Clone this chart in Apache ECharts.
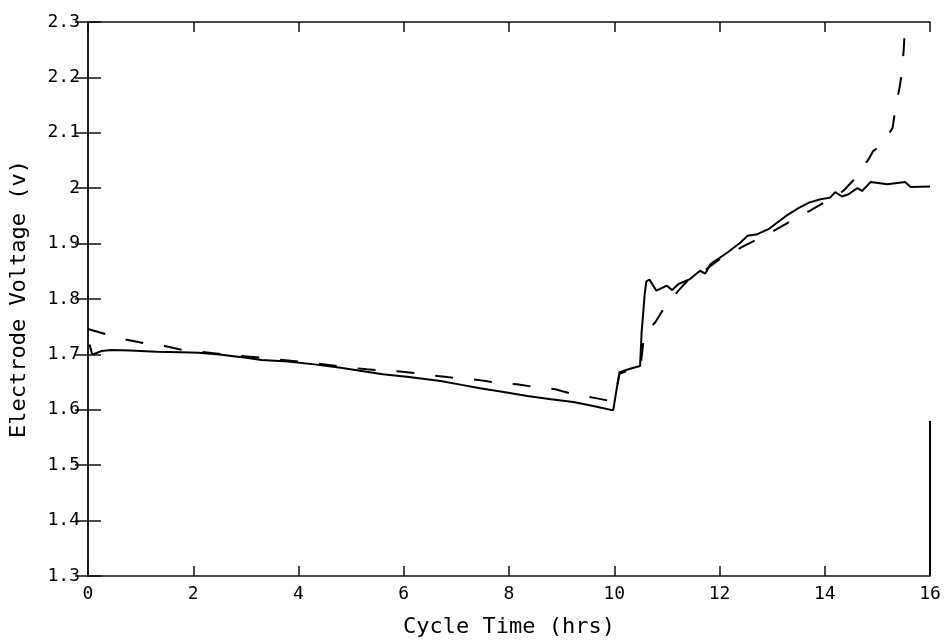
<!DOCTYPE html>
<html>
<head>
<meta charset="utf-8">
<style>
  html, body { margin: 0; padding: 0; background: #fff; }
  #chart { width: 946px; height: 643px; }
</style>
<script src="https://cdn.jsdelivr.net/npm/echarts@6/dist/echarts.min.js"></script>
</head>
<body>
<div id="chart"></div>
<script>
// Electrode voltage over one cycle: two electrodes (solid and dashed traces)
const timeSolid = [0.03, 0.08, 0.15, 0.25, 0.45, 0.8, 1.3, 1.75, 2.1, 2.5, 3.0, 3.3, 3.8, 4.3, 4.8, 5.2, 5.6, 6.1, 6.7, 7.1, 7.45, 7.9, 8.35, 8.8, 9.22, 9.6, 9.98, 10.05, 10.1, 10.3, 10.49, 10.52, 10.58, 10.61, 10.67, 10.8, 11.0, 11.1, 11.22, 11.44, 11.63, 11.73, 11.83, 12.15, 12.4, 12.53, 12.72, 12.93, 13.25, 13.5, 13.7, 13.92, 14.1, 14.2, 14.33, 14.45, 14.62, 14.71, 14.87, 15.19, 15.53, 15.63, 16.0, 16.0, 16.0, 16.0];
const voltSolid = [1.718, 1.700, 1.702, 1.706, 1.708, 1.707, 1.705, 1.704, 1.703, 1.700, 1.694, 1.690, 1.687, 1.682, 1.676, 1.670, 1.664, 1.659, 1.652, 1.645, 1.639, 1.632, 1.625, 1.619, 1.614, 1.607, 1.599, 1.640, 1.668, 1.674, 1.679, 1.740, 1.810, 1.832, 1.835, 1.815, 1.824, 1.816, 1.827, 1.836, 1.851, 1.846, 1.863, 1.884, 1.902, 1.914, 1.917, 1.926, 1.949, 1.964, 1.974, 1.980, 1.983, 1.993, 1.985, 1.989, 2.000, 1.995, 2.011, 2.007, 2.011, 2.002, 2.003, null, 1.58, 1.30];

const timeDashed = [0.0, 0.36, 0.7, 1.08, 1.46, 1.8, 2.3, 2.8, 3.3, 3.8, 4.3, 4.8, 5.3, 5.93, 6.25, 6.65, 7.0, 7.41, 7.74, 8.15, 8.5, 8.88, 9.22, 9.6, 9.92, 10.05, 10.1, 10.3, 10.5, 10.55, 10.6, 10.78, 10.97, 11.22, 11.39, 11.7, 12.0, 12.45, 12.72, 12.9, 13.4, 13.73, 14.1, 14.35, 14.62, 14.83, 14.92, 15.08, 15.29, 15.34, 15.42, 15.47, 15.5, 15.52, 15.55];
const voltDashed = [1.746, 1.736, 1.727, 1.720, 1.715, 1.708, 1.703, 1.698, 1.694, 1.689, 1.684, 1.678, 1.673, 1.669, 1.666, 1.661, 1.657, 1.654, 1.649, 1.646, 1.641, 1.637, 1.628, 1.622, 1.616, 1.640, 1.665, 1.672, 1.678, 1.720, 1.740, 1.758, 1.787, 1.815, 1.833, 1.850, 1.872, 1.895, 1.908, 1.916, 1.943, 1.960, 1.980, 1.995, 2.022, 2.052, 2.067, 2.078, 2.109, 2.142, 2.181, 2.211, 2.250, 2.283, 2.330];

const xTicks = [0, 16, 2];      // min, max, step (hrs)
const yTicks = [1.3, 2.3, 0.1]; // min, max, step (V)

const pair = (xs, ys) => xs.map((x, i) => [x, ys[i] === null ? '-' : ys[i]]);

const FONT = 'DejaVu Sans Mono';
const axisLine = { show: true, lineStyle: { color: '#111', width: 1.5 } };
const tickStyle = { show: true, inside: true, length: 10, lineStyle: { color: '#111', width: 1.5 } };
const labelStyle = { color: '#000', fontFamily: FONT, fontSize: 18 };
const nameStyle = { color: '#000', fontFamily: FONT, fontSize: 22 };

const chart = echarts.init(document.getElementById('chart'), null, { renderer: 'canvas' });
chart.setOption({
  animation: false,
  backgroundColor: '#fff',
  grid: { left: 88, right: 16, top: 22, bottom: 66 },
  xAxis: [
    {
      type: 'value', position: 'bottom', min: xTicks[0], max: xTicks[1], interval: xTicks[2],
      name: 'Cycle Time (hrs)', nameLocation: 'middle', nameGap: 40, nameTextStyle: nameStyle,
      axisLine, axisTick: tickStyle, splitLine: { show: false },
      axisLabel: Object.assign({ margin: 9 }, labelStyle)
    },
    {
      type: 'value', position: 'top', min: xTicks[0], max: xTicks[1], interval: xTicks[2],
      axisLine, axisTick: tickStyle, splitLine: { show: false }, axisLabel: { show: false }
    }
  ],
  yAxis: [
    {
      type: 'value', position: 'left', min: yTicks[0], max: yTicks[1], interval: yTicks[2],
      name: 'Electrode Voltage (v)', nameLocation: 'middle', nameGap: 58, nameRotate: 90,
      nameTextStyle: nameStyle,
      axisLine, axisTick: Object.assign({}, tickStyle, { length: 13 }), splitLine: { show: false },
      axisLabel: Object.assign({ margin: 8, formatter: v => String(+v.toFixed(1)) }, labelStyle)
    },
    {
      type: 'value', position: 'right', min: yTicks[0], max: yTicks[1], interval: yTicks[2],
      axisLine, axisTick: Object.assign({}, tickStyle, { length: 13 }), splitLine: { show: false },
      axisLabel: { show: false }
    }
  ],
  series: [
    {
      name: 'solid', type: 'line', xAxisIndex: 0, yAxisIndex: 0,
      data: pair(timeSolid, voltSolid), showSymbol: false, connectNulls: false,
      lineStyle: { color: '#000', width: 2, type: 'solid' }
    },
    {
      name: 'dashed', type: 'line', xAxisIndex: 0, yAxisIndex: 0,
      data: pair(timeDashed, voltDashed), showSymbol: false, clip: true,
      lineStyle: { color: '#000', width: 2, type: [18, 21] }
    }
  ]
});
</script>
</body>
</html>
